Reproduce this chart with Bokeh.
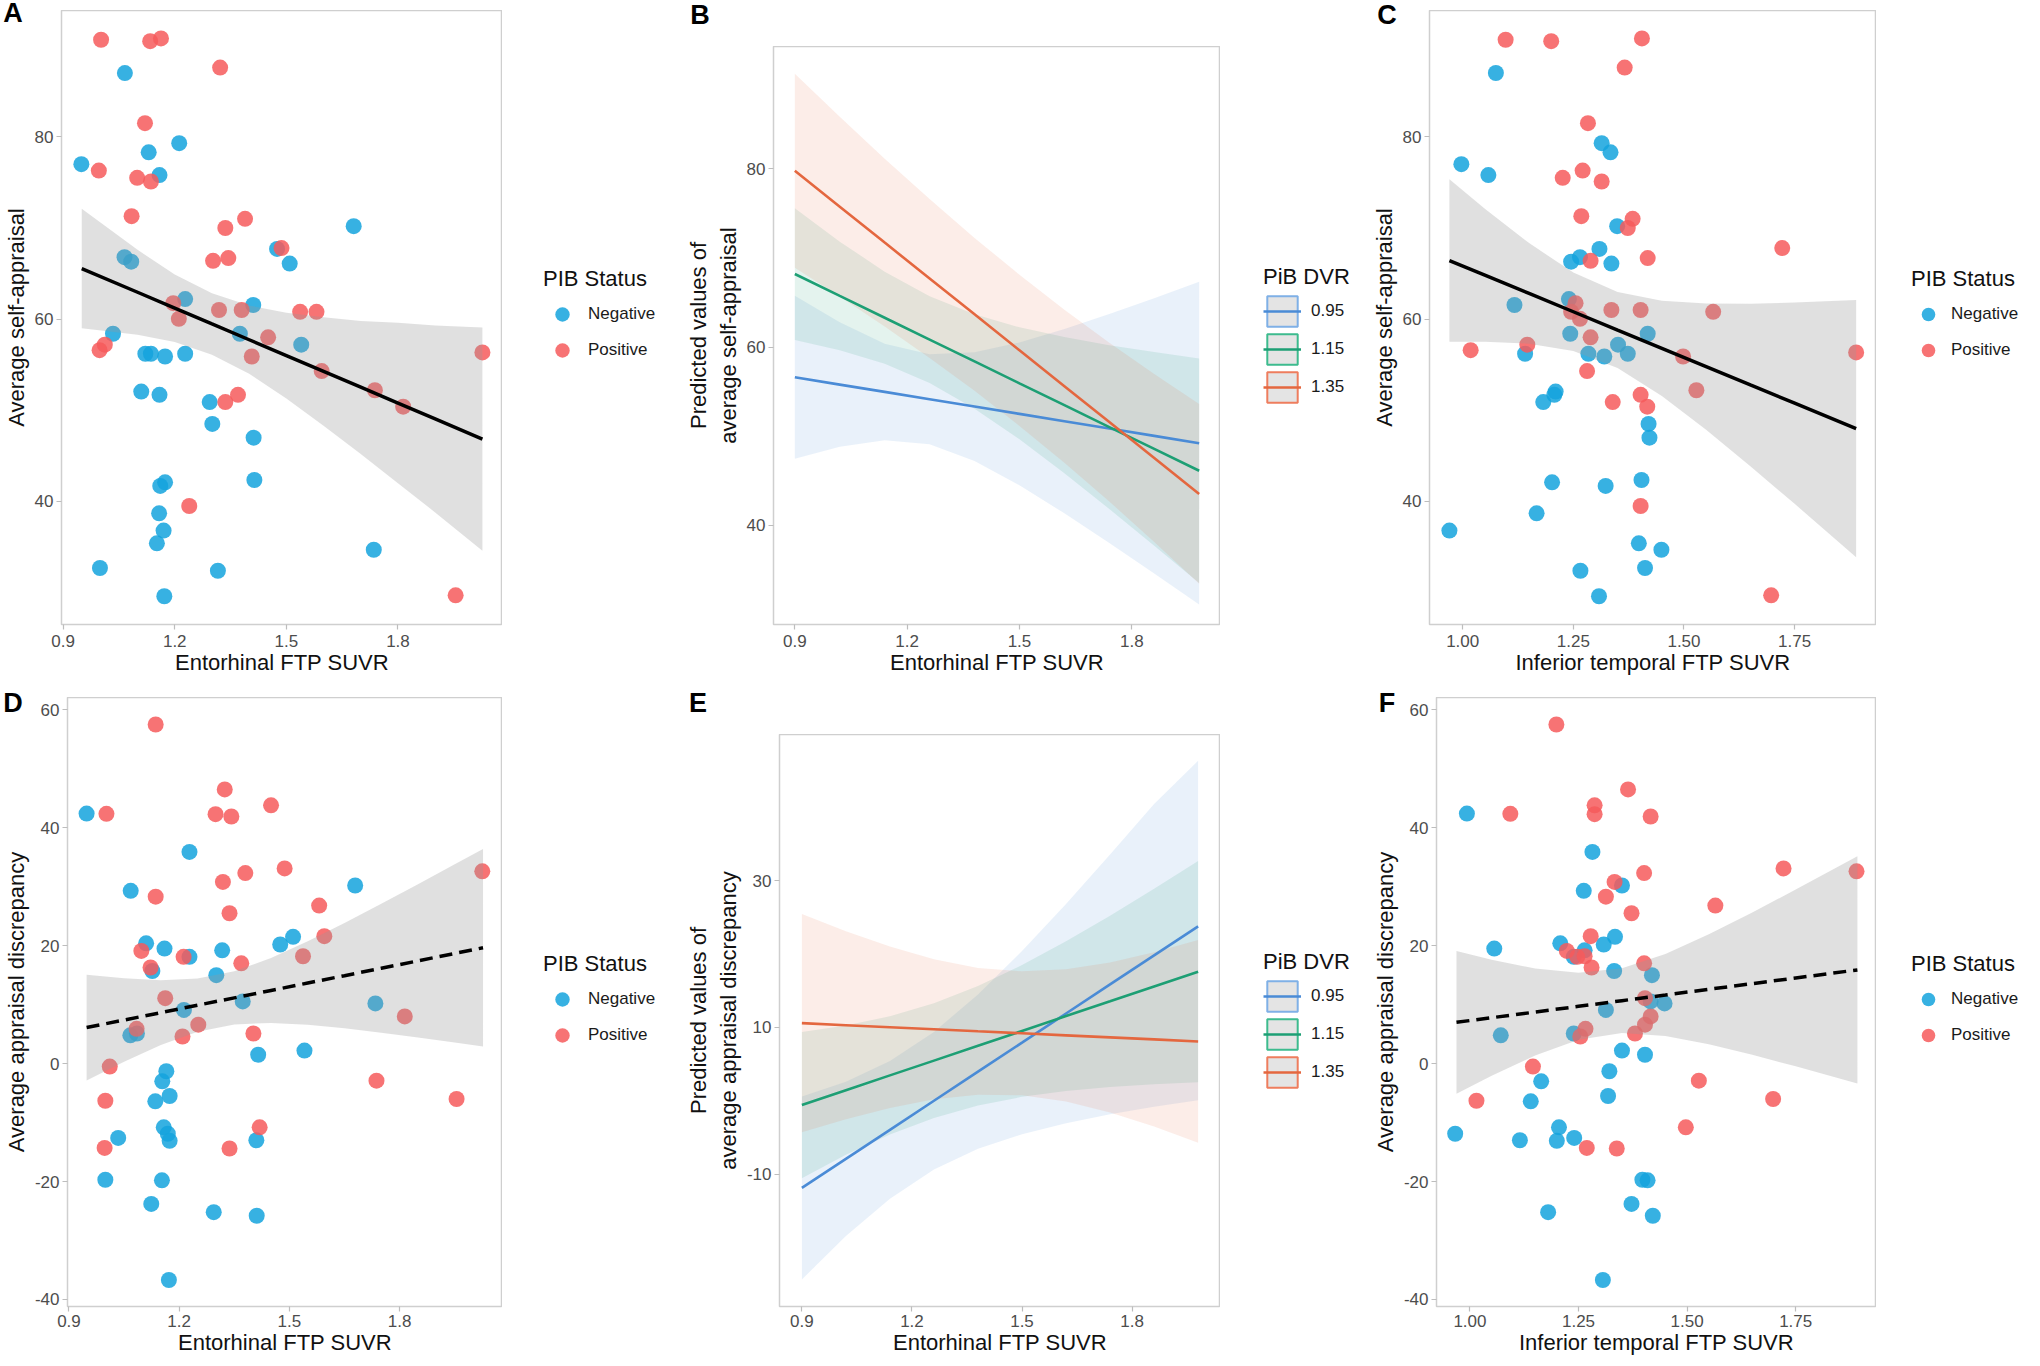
from bokeh.plotting import figure
from bokeh.models import (Range1d, FixedTicker, PrintfTickFormatter, Legend,
                          LegendItem, Div, Spacer)
from bokeh.layouts import row, column
from bokeh.embed import file_html
from bokeh.resources import INLINE

FONT = "Liberation Sans"
NEG_COLOR = "#14a3dd"
POS_COLOR = "#f65a5c"
DVR_LABELS = ["0.95", "1.15", "1.35"]
DVR_LINE = ["#4a8bd6", "#1d9f74", "#e4673f"]
DVR_BOX = ["#7fb0e6", "#3dbb8e", "#ee7d5e"]

# ---------------- scatter data ----------------
self_appraisal_neg = [87.0, 77.0, 78.3, 79.3, 75.8, 70.2, 67.7, 66.1, 66.8, 66.3, 62.2, 61.55,
                      58.4, 58.4, 57.2, 56.2, 56.2, 55.9, 56.2, 52.05, 51.7, 50.9, 48.5, 47.0,
                      42.35, 42.1, 41.7, 38.7, 36.8, 35.4, 34.7, 32.7, 32.4, 29.6]
entorhinal_A_neg = [1.066, 0.949, 1.130, 1.212, 1.159, 1.681, 1.475, 1.509, 1.065, 1.083, 1.228, 1.411,
                    1.034, 1.375, 1.540, 1.121, 1.136, 1.174, 1.228, 1.110, 1.159, 1.294, 1.301, 1.412,
                    1.414, 1.174, 1.161, 1.158, 1.170, 1.152, 1.735, 0.999, 1.316, 1.172]
inftemp_C_neg = [1.075, 0.997, 1.334, 1.314, 1.058, 1.349, 1.309, 1.336, 1.265, 1.245, 1.240, 1.117,
                 1.243, 1.418, 1.351, 1.141, 1.284, 1.320, 1.373, 1.210, 1.207, 1.182, 1.420, 1.422,
                 1.404, 1.202, 1.323, 1.167, 0.970, 1.398, 1.449, 1.412, 1.266, 1.308]
self_appraisal_pos = [90.65, 90.5, 90.8, 87.6, 81.5, 76.3, 75.5, 75.1, 71.3, 71.0, 70.0, 66.4,
                      66.7, 67.8, 61.75, 60.03, 61.0, 61.0, 60.8, 60.8, 58.0, 55.9, 54.3, 56.6,
                      57.2, 50.9, 51.7, 52.2, 50.4, 56.35, 39.5, 29.7]
entorhinal_A_pos = [1.002, 1.134, 1.163, 1.322, 1.120, 0.996, 1.099, 1.136, 1.084, 1.389, 1.336, 1.303,
                    1.344, 1.487, 1.196, 1.211, 1.319, 1.380, 1.537, 1.581, 1.451, 1.407, 1.595, 0.998,
                    1.012, 1.336, 1.370, 1.738, 1.814, 2.027, 1.239, 1.955]
inftemp_C_pos = [1.097, 1.200, 1.405, 1.366, 1.283, 1.271, 1.226, 1.314, 1.268, 1.384, 1.373, 1.289,
                 1.418, 1.722, 1.255, 1.265, 1.336, 1.402, 1.566, 1.245, 1.289, 1.498, 1.281, 1.018,
                 1.146, 1.339, 1.402, 1.528, 1.417, 1.889, 1.402, 1.697]

discrepancy_neg = [42.4, 35.9, 29.3, 30.2, 20.4, 19.5, 19.2, 18.1, 15.7, 15.0, 20.2, 21.5,
                   10.55, 10.2, 9.1, 4.8, 5.1, 1.5, 2.2, -1.3, -3.0, -5.5, -6.4, -12.6,
                   -10.8, -11.9, -13.1, -13.0, -19.7, -19.8, -23.8, -25.2, -25.8, -36.7]
entorhinal_D_neg = [0.948, 1.228, 1.068, 1.679, 1.110, 1.160, 1.317, 1.228, 1.127, 1.301, 1.475, 1.510,
                    1.373, 1.734, 1.213, 1.067, 1.085, 1.415, 1.541, 1.165, 1.154, 1.174, 1.135, 1.034,
                    1.158, 1.169, 1.174, 1.410, 0.999, 1.153, 1.124, 1.294, 1.411, 1.172]
inftemp_F_neg = [0.993, 1.282, 1.262, 1.350, 1.208, 1.056, 1.264, 1.239, 1.332, 1.419, 1.308, 1.334,
                 1.416, 1.448, 1.313, 1.071, 1.239, 1.403, 1.350, 1.321, 1.164, 1.318, 1.140, 1.240,
                 1.205, 0.966, 1.200, 1.115, 1.397, 1.409, 1.372, 1.180, 1.421, 1.306]
discrepancy_pos = [57.5, 46.5, 42.3, 41.9, 43.8, 42.35, 32.3, 33.1, 30.8, 28.3, 25.5, 26.8,
                   32.6, 19.1, 16.3, 18.1, 17.0, 18.2, 21.6, 11.1, 5.9, 4.6, 6.6, 5.1,
                   8.0, -0.5, -6.3, -14.3, -10.8, -14.4, -2.9, -6.0]
entorhinal_D_pos = [1.136, 1.324, 1.299, 1.342, 1.450, 1.002, 1.380, 1.487, 1.319, 1.136, 1.337, 1.581,
                    2.025, 1.097, 1.122, 1.212, 1.369, 1.537, 1.595, 1.162, 1.084, 1.209, 1.252, 1.402,
                    1.814, 1.011, 0.999, 0.997, 1.419, 1.337, 1.737, 1.955]
inftemp_F_pos = [1.199, 1.364, 1.287, 1.416, 1.287, 1.093, 1.401, 1.722, 1.333, 1.313, 1.372, 1.565,
                 1.890, 1.223, 1.280, 1.247, 1.401, 1.264, 1.278, 1.403, 1.266, 1.254, 1.403, 1.380,
                 1.416, 1.145, 1.015, 1.269, 1.497, 1.338, 1.527, 1.698]

# ---------------- regression fits with 95% CI ----------------
fitA_x = [0.95, 1.1, 1.2, 1.3, 1.4, 1.5, 1.6, 1.7, 1.8, 1.9, 2.027]
fitA_y = [65.55, 62.95, 61.21, 59.47, 57.74, 56.0, 54.26, 52.53, 50.79, 49.05, 46.84]
fitA_up = [72.1, 67.6, 64.9, 62.85, 61.5, 60.7, 60.2, 59.8, 59.6, 59.3, 59.07]
fitA_lo = [59.0, 58.3, 57.5, 56.1, 54.0, 51.3, 48.3, 45.2, 42.0, 38.8, 34.6]

fitC_x = [0.97, 1.05, 1.15, 1.25, 1.35, 1.45, 1.55, 1.65, 1.75, 1.889]
fitC_y = [66.43, 64.82, 62.82, 60.81, 58.80, 56.80, 54.79, 52.78, 50.78, 47.99]
fitC_up = [75.34, 72.12, 68.34, 65.11, 62.97, 62.02, 61.71, 61.69, 61.82, 62.09]
fitC_lo = [57.52, 57.52, 57.30, 56.51, 54.63, 51.58, 47.87, 43.87, 39.74, 33.89]

fitD_x = [0.948, 1.05, 1.15, 1.25, 1.35, 1.45, 1.55, 1.65, 1.75, 1.85, 1.95, 2.027]
fitD_y = [6.11, 7.39, 8.64, 9.90, 11.15, 12.40, 13.66, 14.91, 16.17, 17.42, 18.68, 19.64]
fitD_up = [15.08, 14.47, 14.14, 14.41, 15.66, 17.9, 20.74, 23.84, 27.1, 30.42, 33.79, 36.4]
fitD_lo = [-2.86, 0.31, 3.14, 5.39, 6.64, 6.9, 6.58, 5.98, 5.24, 4.42, 3.57, 2.88]

fitF_x = [0.969, 1.05, 1.15, 1.25, 1.35, 1.45, 1.55, 1.65, 1.75, 1.892]
fitF_y = [7.0, 7.78, 8.74, 9.71, 10.67, 11.63, 12.6, 13.56, 14.52, 15.89]
fitF_up = [19.1, 17.63, 16.12, 15.39, 16.17, 18.59, 21.92, 25.63, 29.51, 35.17]
fitF_lo = [-5.1, -2.07, 1.36, 4.03, 5.17, 4.67, 3.28, 1.49, -0.47, -3.39]

# ---------------- predicted values by PiB DVR (0.95, 1.15, 1.35) ----------------
pred_x = [0.9, 1.02, 1.14, 1.26, 1.38, 1.5, 1.62, 1.74, 1.86, 1.98]
predB_fit = [[56.6, 55.78, 54.96, 54.13, 53.31, 52.49, 51.67, 50.84, 50.02, 49.2],
             [68.2, 65.74, 63.29, 60.83, 58.38, 55.92, 53.47, 51.01, 48.56, 46.1],
             [79.8, 75.77, 71.73, 67.7, 63.67, 59.63, 55.6, 51.57, 47.53, 43.5]]
predB_up = [[65.75, 62.77, 60.38, 59.18, 59.41, 60.51, 62.02, 63.70, 65.49, 67.33],
            [75.6, 71.84, 68.47, 65.71, 63.68, 62.21, 61.12, 60.21, 59.43, 58.7],
            [90.7, 85.87, 81.16, 76.62, 72.26, 68.12, 64.19, 60.49, 56.96, 53.6]]
predB_lo = [[47.45, 48.79, 49.54, 49.08, 47.21, 44.47, 41.32, 37.98, 34.55, 31.07],
            [60.8, 59.64, 58.11, 55.95, 53.08, 49.63, 45.82, 41.81, 37.69, 33.5],
            [68.9, 65.67, 62.3, 58.78, 55.08, 51.14, 47.01, 42.65, 38.1, 33.4]]
predE_fit = [[-11.84, -7.88, -3.93, 0.03, 3.99, 7.94, 11.9, 15.86, 19.81, 23.77],
             [-0.56, 1.46, 3.48, 5.49, 7.51, 9.53, 11.55, 13.56, 15.58, 17.6],
             [10.59, 10.31, 10.04, 9.76, 9.48, 9.21, 8.93, 8.65, 8.38, 8.1]]
predE_up = [[0.62, 2.62, 5.44, 9.4, 14.49, 20.4, 26.82, 33.53, 40.42, 46.3],
            [9.4, 10.26, 11.53, 13.3, 15.65, 18.5, 21.73, 25.22, 28.88, 32.67],
            [25.43, 23.11, 21.03, 19.29, 18.1, 17.64, 17.93, 18.86, 20.24, 21.9]]
predE_lo = [[-24.3, -18.38, -13.3, -9.34, -6.51, -4.52, -3.02, -1.81, -0.8, 0.11],
            [-10.52, -7.34, -4.57, -2.32, -0.63, 0.56, 1.37, 1.9, 2.28, 2.53],
            [-4.25, -2.49, -0.95, 0.23, 0.86, 0.78, -0.07, -1.56, -3.48, -5.7]]

panel_letters = ["A", "B", "C", "D", "E", "F"]


def base_fig(xr, yr, xticks, yticks, xfmt, w, h, bl, bb,
             xlabel, ylabel, xlab_standoff=0, xtick_standoff=5):
    p = figure(width=w, height=h, min_border_left=bl,
               min_border_right=0, min_border_top=0, min_border_bottom=bb,
               x_range=Range1d(*xr), y_range=Range1d(*yr),
               output_backend="svg", toolbar_location=None, title=None)
    p.xgrid.visible = False
    p.ygrid.visible = False
    p.outline_line_color = "#cfcfcf"
    p.outline_line_width = 1.5
    p.background_fill_color = "white"
    p.border_fill_color = "white"
    p.xaxis.ticker = FixedTicker(ticks=xticks)
    p.yaxis.ticker = FixedTicker(ticks=yticks)
    p.xaxis.formatter = PrintfTickFormatter(format=xfmt)
    p.yaxis.formatter = PrintfTickFormatter(format="%d")
    p.xaxis.axis_label = xlabel
    p.yaxis.axis_label = ylabel
    for ax in (p.xaxis[0], p.yaxis[0]):
        ax.axis_line_color = None
        ax.major_tick_line_color = "#bdbdbd"
        ax.major_tick_line_width = 1.2
        ax.major_tick_in = 0
        ax.major_tick_out = 5
        ax.minor_tick_line_color = None
        ax.major_label_text_font = FONT
        ax.major_label_text_font_size = "17px"
        ax.major_label_text_color = "#4d4d4d"
        ax.axis_label_text_font = FONT
        ax.axis_label_text_font_size = "22px"
        ax.axis_label_text_font_style = "normal"
        ax.axis_label_text_color = "#111111"
    p.xaxis[0].major_label_standoff = xtick_standoff
    p.xaxis[0].axis_label_standoff = xlab_standoff
    p.yaxis[0].major_label_standoff = 3
    p.yaxis[0].axis_label_standoff = 3
    return p


def legend_fig(w, h, bb):
    # a plain frame holding only the legend; its key renderers sit outside the visible range
    q = figure(width=w, height=h, min_border_left=0, min_border_right=0,
               min_border_top=0, min_border_bottom=bb,
               x_range=Range1d(-10, -9), y_range=Range1d(-1000, -999),
               x_axis_location=None, y_axis_location=None,
               output_backend="svg", toolbar_location=None, title=None)
    q.xgrid.visible = False
    q.ygrid.visible = False
    q.outline_line_color = None
    q.background_fill_color = "white"
    q.border_fill_color = "white"
    return q


def make_legend(items, title, margin, gw, gh, standoff, tstand):
    return Legend(items=items, location="center_left", title=title,
                  title_text_font=FONT, title_text_font_size="22px", title_text_color="#111111",
                  title_text_font_style="normal",
                  label_text_font=FONT, label_text_font_size="17px", label_text_color="#1a1a1a",
                  glyph_width=gw, glyph_height=gh, label_standoff=standoff, spacing=0,
                  padding=10, margin=margin, border_line_color=None, background_fill_alpha=0,
                  title_standoff=tstand)


def with_top(top, w, fig):
    if top <= 0:
        return fig
    return column(Spacer(width=w, height=top), fig, spacing=0)


def scatter_panel(xr, yr, xticks, yticks, xfmt, w, h, top, bl, bb, lw, lmargin, gw, lstand,
                  xlabel, ylabel, negx, negy, posx, posy, fx, fy, flo, fup, dashed,
                  xlab_standoff=0, xtick_standoff=5):
    p = base_fig(xr, yr, xticks, yticks, xfmt, w, h - top, bl, bb, xlabel, ylabel,
                 xlab_standoff, xtick_standoff)
    sty = dict(size=16, fill_alpha=0.85, line_color=None)
    p.scatter(negx, negy, fill_color=NEG_COLOR, **sty)
    p.scatter(posx, posy, fill_color=POS_COLOR, **sty)
    p.varea(x=fx, y1=flo, y2=fup, fill_color="#999999", fill_alpha=0.3)
    p.line(fx, fy, line_color="black", line_width=3.5,
           line_dash="13 7" if dashed else "solid")
    q = legend_fig(lw, h - top, bb)
    kn = q.scatter(negx, negy, fill_color=NEG_COLOR, **sty)
    kp = q.scatter(posx, posy, fill_color=POS_COLOR, **sty)
    q.add_layout(make_legend([LegendItem(label="Negative", renderers=[kn]),
                              LegendItem(label="Positive", renderers=[kp])],
                             "PIB Status", lmargin, gw, 36, lstand, 4))
    return with_top(top, w, p), with_top(top, lw, q)


def pred_panel(xr, yr, yticks, w, h, top, bl, bb, lw, lmargin, ylabel, fits, ups, los,
               xlab_standoff=0, xtick_standoff=5):
    p = base_fig(xr, yr, [0.9, 1.2, 1.5, 1.8], yticks, "%.1f", w, h - top, bl, bb,
                 "Entorhinal FTP SUVR", ylabel, xlab_standoff, xtick_standoff)
    for i in range(3):
        p.varea(x=pred_x, y1=los[i], y2=ups[i], fill_color=DVR_LINE[i], fill_alpha=0.12)
    for i in range(3):
        p.line(pred_x, fits[i], line_color=DVR_LINE[i], line_width=2.6)
    q = legend_fig(lw, h - top, bb)
    items = []
    for i in range(3):
        key = q.rect(x=pred_x, y=fits[i], width=0.05, height=1,
                     fill_color="#e4e4e4", line_color=DVR_BOX[i], line_width=2)
        ln = q.line(pred_x, fits[i], line_color=DVR_LINE[i], line_width=2.6)
        items.append(LegendItem(label=DVR_LABELS[i], renderers=[key, ln]))
    q.add_layout(make_legend(items, "PiB DVR", lmargin, 38, 38, 10, 2))
    return with_top(top, w, p), with_top(top, lw, q)


pA, lA = scatter_panel((0.8956, 2.081), (26.5, 93.86), [0.9, 1.2, 1.5, 1.8], [40, 60, 80], "%.1f",
                       502, 680, 0, 57, 66, 180, 41, 38, 7,
                       "Entorhinal FTP SUVR", "Average self-appraisal",
                       entorhinal_A_neg, self_appraisal_neg, entorhinal_A_pos, self_appraisal_pos,
                       fitA_x, fitA_y, fitA_lo, fitA_up, False)
pB, lB = pred_panel((0.843, 2.037), (28.83, 93.76), [40, 60, 80], 538, 680, 36, 85, 66, 147, 43,
                    "Predicted values of\naverage self-appraisal", predB_fit, predB_up, predB_lo)
pC, lC = scatter_panel((0.925, 1.935), (26.5, 93.86), [1.0, 1.25, 1.5, 1.75], [40, 60, 80], "%.2f",
                       509, 680, 0, 62, 66, 148, 35, 34, 6,
                       "Inferior temporal FTP SUVR", "Average self-appraisal",
                       inftemp_C_neg, self_appraisal_neg, inftemp_C_pos, self_appraisal_pos,
                       fitC_x, fitC_y, fitC_lo, fitC_up, False)
pD, lD = scatter_panel((0.896, 2.080), (-41.19, 62.08), [0.9, 1.2, 1.5, 1.8],
                       [-40, -20, 0, 20, 40, 60], "%.1f", 502, 670, 7, 64, 54, 180, 41, 38, 7,
                       "Entorhinal FTP SUVR", "Average appraisal discrepancy",
                       entorhinal_D_neg, discrepancy_neg, entorhinal_D_pos, discrepancy_pos,
                       fitD_x, fitD_y, fitD_lo, fitD_up, True, 0, 3)
pE, lE = pred_panel((0.839, 2.041), (-27.98, 49.88), [-10, 10, 30], 538, 670, 44, 91, 54, 147, 43,
                    "Predicted values of\naverage appraisal discrepancy",
                    predE_fit, predE_up, predE_lo, 0, 3)
pF, lF = scatter_panel((0.923, 1.936), (-41.19, 62.08), [1.0, 1.25, 1.5, 1.75],
                       [-40, -20, 0, 20, 40, 60], "%.2f", 509, 670, 7, 69, 54, 148, 35, 34, 6,
                       "Inferior temporal FTP SUVR", "Average appraisal discrepancy",
                       inftemp_F_neg, discrepancy_neg, inftemp_F_pos, discrepancy_pos,
                       fitF_x, fitF_y, fitF_lo, fitF_up, True, 0, 3)

# panel letters, overlaid on the page (positions relative to the layout's top-left corner)
letter_pos = [(8, 8), (695, 10), (1382, 10), (8, 698), (693, 698), (1382, 698)]
spans = "".join(
    '<div style="position:absolute;left:%dpx;top:%dpx;transform:translate(-50%%,-50%%);'
    'font-family:\'Liberation Sans\',Arial,sans-serif;font-weight:bold;font-size:27px;'
    'line-height:1;color:#000;white-space:nowrap;">%s</div>' % (x, y, t)
    for (x, y), t in zip(letter_pos, panel_letters))
letters = Div(text=spans, width=2024, height=0,
              styles={"position": "relative", "z-index": "10", "overflow": "visible"})

layout = column(letters,
                row(pA, lA, pB, lB, pC, lC, spacing=0),
                row(pD, lD, pE, lE, pF, lF, spacing=0), spacing=0)
open("out.html", "w").write(file_html(layout, INLINE))
